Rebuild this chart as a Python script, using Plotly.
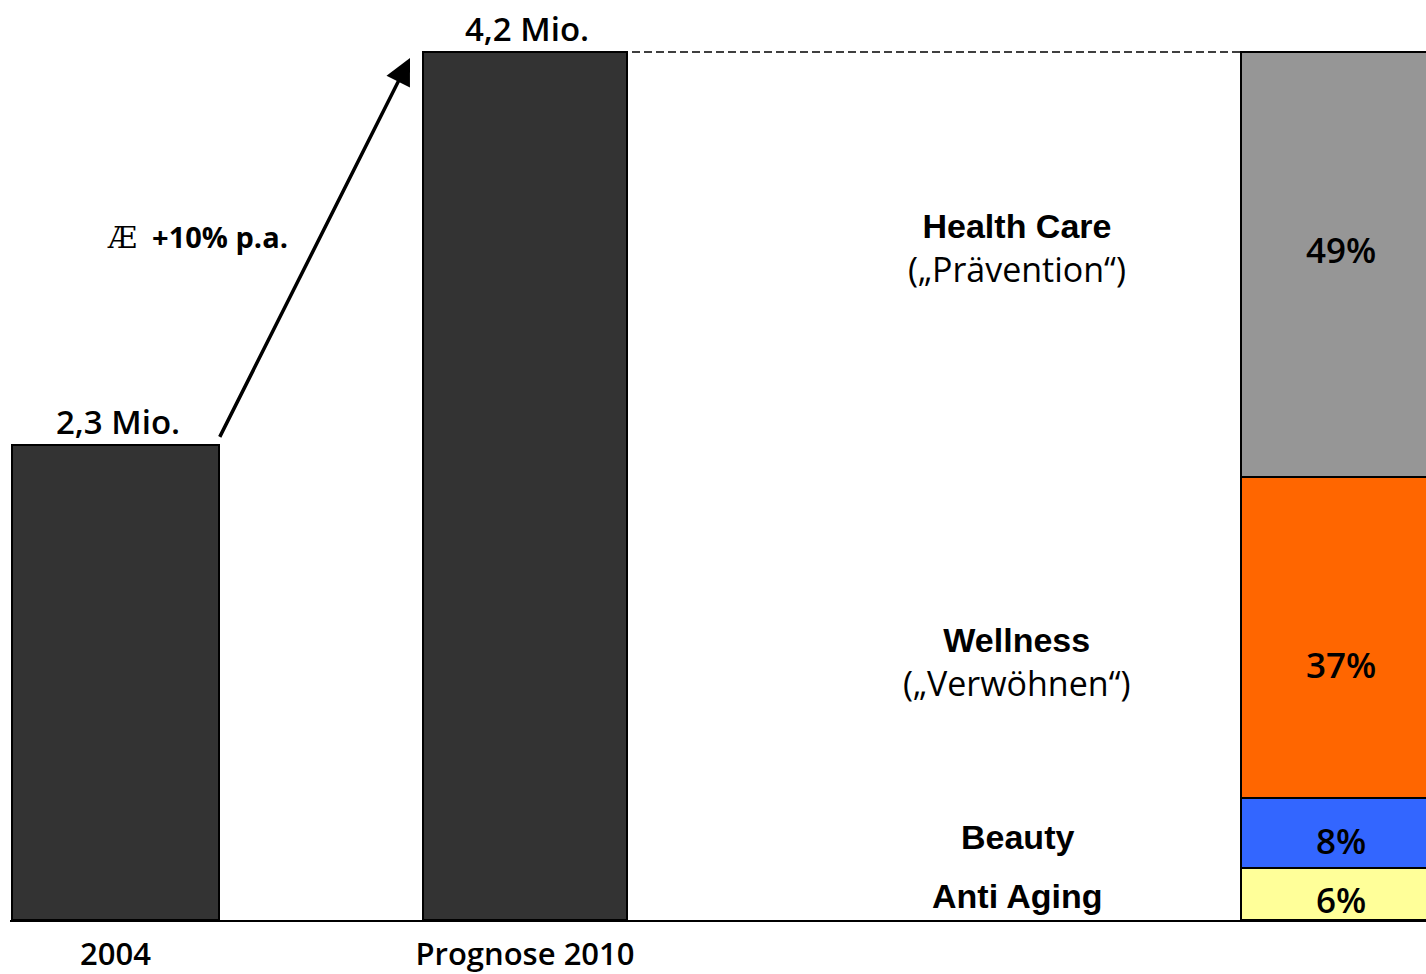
import plotly.graph_objects as go

# ---- data ----
years = ["2004", "Prognose 2010"]
totals = [2.3, 4.2]                 # Mio.
total_labels = ["2,3 Mio.", "4,2 Mio."]
segments = ["Anti Aging", "Beauty", "Wellness", "Health Care"]
segment_sub = ["", "", "(„Verwöhnen“)", "(„Prävention“)"]
shares = [6, 8, 37, 49]             # % of 2010 total
seg_colors = ["#FFFF99", "#3366FF", "#FF6600", "#969696"]
growth_label = "+10% p.a."

# ---- layout positions (pixel-like x units) ----
bar_x = [115.5, 525]
bar_w = [207, 204]
stack_x = 1341
stack_w = 200
label_x = 1017
label_shift = [-2, -4, -26, 15]     # vertical nudges (px, positive = up)
pct_shift = [-6, -7, -27, 15]

W, H = 1426, 974
ml, mb = 10, 52
ymax = 4.2 * (H - mb) / 870.0

fig = go.Figure()

fig.add_trace(go.Bar(
    x=bar_x, y=totals, width=bar_w,
    marker=dict(color="#333333", line=dict(color="black", width=2)),
    showlegend=False, hoverinfo="skip"))

seg_vals = [totals[1] * s / 100 for s in shares]
for name, val, col in zip(segments, seg_vals, seg_colors):
    fig.add_trace(go.Bar(
        x=[stack_x], y=[val], width=stack_w, name=name,
        marker=dict(color=col, line=dict(color="black", width=2)),
        showlegend=False, hoverinfo="skip"))

ann = []
for x, v, t in zip(bar_x, totals, total_labels):
    ann.append(dict(x=x + 2, y=v, text=t, showarrow=False, yanchor="bottom", yshift=-1,
                    font=dict(family="Open Sans", size=33, color="black", weight=600)))

# segment labels and percentages
cum = 0
for name, sub, val, s, ls, ps in zip(segments, segment_sub, seg_vals, shares, label_shift, pct_shift):
    mid = cum + val / 2
    cum += val
    if sub:
        txt = (f"<span style='font-family:Liberation Sans'><b>{name}</b></span><br>"
               f"<span style='font-family:Open Sans'>{sub}</span>")
    else:
        txt = f"<span style='font-family:Liberation Sans'><b>{name}</b></span>"
    ann.append(dict(x=label_x, y=mid, text=txt, showarrow=False, yshift=ls,
                    font=dict(family="Liberation Sans", size=34, color="black")))
    ann.append(dict(x=stack_x, y=mid, text=f"{s}%", showarrow=False, yshift=ps,
                    font=dict(family="Open Sans", size=35, color="black", weight=600)))

# growth arrow
ann.append(dict(x=410, y=4.17, ax=219, ay=2.33, axref="x", ayref="y", xref="x", yref="y",
                text="", showarrow=True, arrowhead=2, arrowsize=1.5, arrowwidth=3.5,
                arrowcolor="black", standoff=0, startstandoff=0))
ann.append(dict(x=197, y=(922 - 237) * 4.2 / 870,
                text="<span style='font-family:DejaVu Serif;font-weight:normal'>Æ</span>  <b>" + growth_label + "</b>",
                showarrow=False, font=dict(family="Open Sans", size=29, color="black")))

fig.update_layout(annotations=ann)

# dashed connector from 2010 bar top to stacked bar
fig.add_shape(type="line", x0=bar_x[1] + bar_w[1] / 2 + 5, x1=stack_x - stack_w / 2,
              y0=totals[1], y1=totals[1],
              line=dict(color="black", width=1.5, dash="8px,4px"))

fig.update_layout(
    width=W, height=H,
    margin=dict(l=ml, r=0, t=0, b=mb),
    paper_bgcolor="white", plot_bgcolor="white",
    barmode="stack", bargap=0,
    xaxis=dict(range=[ml, W], showgrid=False, zeroline=False,
               showline=True, linecolor="black", linewidth=2,
               tickvals=bar_x, ticktext=years, ticks="", ticklabelstandoff=6,
               tickfont=dict(family="Open Sans", size=31, color="black", weight=600)),
    yaxis=dict(range=[0, ymax], visible=False),
)

fig.write_html("out.html", config={"displayModeBar": False})
with open("out.html", encoding="utf-8") as f:
    html = f.read()
html = html.replace("<head>", "<head><style>html,body{margin:0;padding:0;overflow:hidden}</style>", 1)
with open("out.html", "w", encoding="utf-8") as f:
    f.write(html)
